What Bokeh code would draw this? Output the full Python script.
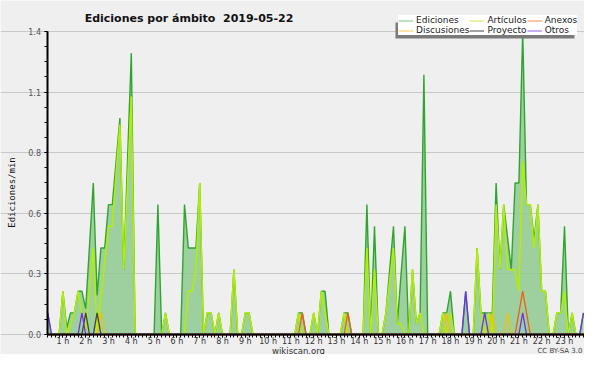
import math
from bokeh.plotting import figure
from bokeh.models import (Range1d, FixedTicker, Label, Legend, LegendItem, BoxAnnotation)
from bokeh.embed import file_html
from bokeh.resources import INLINE

# ---- data: edits per minute, 10-minute bins starting at 00:20 ----
start_minute = 20
step_minutes = 10

ediciones = [
    0.1, 0, 0, 0, 0.2, 0.03, 0.1, 0.1, 0.2, 0.2,
    0.12, 0.41, 0.7, 0.18, 0.4, 0.4, 0.6, 0.6, 0.8, 1.0,
    0.3, 0.8, 1.3, 0, 0, 0, 0, 0, 0, 0.6,
    0, 0.1, 0, 0, 0, 0, 0.6, 0.4, 0.4, 0.4,
    0.7, 0, 0.1, 0.1, 0, 0.1, 0, 0, 0, 0.3,
    0, 0, 0.1, 0.1, 0, 0, 0, 0, 0, 0,
    0, 0, 0, 0, 0, 0, 0.1, 0.1, 0, 0,
    0.1, 0, 0.2, 0.2, 0, 0, 0, 0, 0.1, 0.1,
    0, 0, 0, 0, 0.6, 0, 0.5, 0, 0, 0.1,
    0.3, 0.5, 0.05, 0.28, 0.5, 0, 0.3, 0.05, 0.1, 1.2,
    0, 0, 0, 0, 0.1, 0.1, 0.2, 0, 0, 0,
    0.2, 0, 0, 0.4, 0.1, 0.1, 0.1, 0.1, 0.7, 0.3,
    0.6, 0.45, 0.3, 0.7, 0.7, 1.4, 0.6, 0.6, 0.44, 0.6,
    0.2, 0.2, 0, 0, 0.1, 0.1, 0.5, 0, 0.1, 0,
    0, 0.1,
]

articulos = [
    0, 0, 0, 0, 0.2, 0, 0.05, 0.1, 0.2, 0.1,
    0.02, 0.2, 0.4, 0, 0.17, 0.33, 0.5, 0.5, 0.75, 0.97,
    0.3, 0.7, 1.1, 0, 0, 0, 0, 0, 0, 0,
    0, 0.1, 0, 0, 0, 0, 0, 0.2, 0.2, 0.3,
    0.7, 0, 0.1, 0.1, 0, 0.1, 0, 0, 0, 0.3,
    0, 0, 0.1, 0.1, 0, 0, 0, 0, 0, 0,
    0, 0, 0, 0, 0, 0, 0.1, 0, 0, 0,
    0.1, 0, 0.2, 0.1, 0, 0, 0, 0, 0.1, 0,
    0, 0, 0, 0, 0.4, 0, 0.3, 0, 0, 0.1,
    0.25, 0.4, 0.05, 0.05, 0, 0, 0.3, 0.05, 0.1, 0,
    0, 0, 0, 0, 0.1, 0, 0.1, 0, 0, 0,
    0, 0, 0, 0.4, 0.1, 0, 0.1, 0, 0.6, 0.3,
    0.6, 0.3, 0.3, 0.3, 0.2, 0.8, 0.6, 0.6, 0.4, 0.6,
    0.2, 0.2, 0, 0, 0.1, 0.1, 0.2, 0, 0.1, 0,
    0, 0,
]

n_bins = len(ediciones)
anexos = [0] * n_bins
discusiones = [0] * n_bins
proyecto = [0] * n_bins
otros = [0] * n_bins
# sparse series: (bin index, value)
anexos_pts = [(67, 0.1), (79, 0.1), (124, 0.1), (125, 0.2), (126, 0.1)]
discusiones_pts = [(14, 0.1), (105, 0.1), (117, 0.1), (121, 0.1)]
proyecto_pts = [(10, 0.1), (13, 0.1)]
otros_pts = [(0, 0.1), (9, 0.1), (110, 0.2), (115, 0.1), (125, 0.1), (141, 0.1)]
for arr, pts in ((anexos, anexos_pts), (discusiones, discusiones_pts),
                 (proyecto, proyecto_pts), (otros, otros_pts)):
    for i, v in pts:
        arr[i] = v

hours = [(start_minute + step_minutes * i) / 60 for i in range(n_bins)]

y_ticks = [0, 0.28, 0.56, 0.84, 1.12, 1.4]
y_tick_labels = ["0.0", "0.3", "0.6", "0.8", "1.1", "1.4"]
y_minor = [0.07 * k for k in range(21)]
x_ticks = list(range(1, 24))
x_tick_labels = [f"{h} h" for h in x_ticks]
x_minor = [k / 6 for k in range(2, 144)]

series_names = ["Ediciones", "Artículos", "Anexos", "Discusiones", "Proyecto", "Otros"]
title_text = "Ediciones por ámbito\u00a0 2019-05-22"
y_title = "Ediciones/min"

# ---- figure (frame spans the whole canvas; axes are pinned inside it) ----
W, H = 584, 354
BG = "#efeff0"
X0, X1 = -1.7369, 23.877      # hours at canvas left / right edge
Y0, Y1 = -0.09241, 1.54323    # values at canvas bottom / top edge
AXIS_X = 0.3026               # where the value axis stands (hours)

p = figure(width=W, height=H, output_backend="svg", toolbar_location=None,
           x_range=Range1d(X0, X1), y_range=Range1d(Y0, Y1),
           min_border_left=0, min_border_right=0, min_border_top=0, min_border_bottom=0)
p.background_fill_color = BG
p.border_fill_color = BG
p.outline_line_color = None
p.xgrid.grid_line_color = None
p.ygrid.grid_line_color = "#c8c8c8"
p.ygrid.grid_line_width = 1
p.ygrid.bounds = (AXIS_X, X1)

# axes
p.yaxis.ticker = FixedTicker(ticks=y_ticks, minor_ticks=y_minor)
p.yaxis.major_label_overrides = {t: l for t, l in zip(y_ticks, y_tick_labels)}
p.yaxis.bounds = (0, 1.4)
p.yaxis.fixed_location = AXIS_X
p.xaxis.ticker = FixedTicker(ticks=x_ticks, minor_ticks=x_minor)
p.xaxis.major_label_overrides = {t: l for t, l in zip(x_ticks, x_tick_labels)}
p.xaxis.fixed_location = 0
p.xaxis.bounds = (AXIS_X, X1)
for ax in (p.xaxis, p.yaxis):
    ax.axis_line_color = "black"
    ax.axis_line_width = 2
    ax.major_tick_line_color = "black"
    ax.minor_tick_line_color = "black"
    ax.major_tick_in = 0
    ax.minor_tick_in = 0
    ax.major_tick_out = 3
    ax.minor_tick_out = 3
    ax.major_label_text_font = "DejaVu Sans"
p.yaxis.major_label_text_font_size = "8px"
p.yaxis.major_label_text_color = "#555555"
p.yaxis.major_label_standoff = 3
p.xaxis.major_label_text_font_size = "8px"
p.xaxis.major_label_text_color = "#333333"
p.xaxis.major_label_standoff = 0

# glyphs
p.varea(x=hours, y1=[0] * n_bins, y2=ediciones, fill_color="#8fc98f", fill_alpha=0.85)
p.line(hours, ediciones, line_color="#2fa52f", line_width=1.4)
p.line(hours, articulos, line_color="#b4ee00", line_width=1.5)
p.line(hours, discusiones, line_color="#f2c200", line_width=1.3)
p.line(hours, proyecto, line_color="#444444", line_width=1.3)
p.line(hours, anexos, line_color="#f06010", line_width=1.3)
p.line(hours, otros, line_color="#7030e8", line_width=1.3)

# legend sample lines (renderers placed off-range so only the legend shows them)
legend_colors = ["#8fd08f", "#d2f06a", "#ff9a66", "#ffd766", "#666666", "#a07af0"]
items = []
for name, col in zip(series_names, legend_colors):
    r = p.line([-5, -4], [-5, -5], line_color=col, line_width=1.2)
    items.append(LegendItem(label=name, renderers=[r]))

# shadow offset 3px left / 3px down from the legend box (canvas pixels, y up)
shadow = BoxAnnotation(left=395, right=574, top=332, bottom=316,
                       left_units="screen", right_units="screen",
                       top_units="screen", bottom_units="screen",
                       fill_color="#7a7a7a", fill_alpha=1.0, line_color=None)
p.add_layout(shadow)

legend = Legend(items=items, location=(398, 319), orientation="horizontal", ncols=3,
                label_text_font="DejaVu Sans", label_text_font_size="9px",
                label_text_color="#222222", glyph_width=15, glyph_height=7,
                label_height=7, label_standoff=3, spacing=0, padding=3, margin=0,
                background_fill_color="white", background_fill_alpha=1.0,
                border_line_color=None)
p.add_layout(legend)

# texts (canvas pixels, y up from bottom edge)
p.add_layout(Label(x=188.5, y=335.7, x_units="screen", y_units="screen",
                   text=title_text, text_align="center",
                   text_baseline="alphabetic", text_font="DejaVu Sans",
                   text_font_style="bold", text_font_size="11px", text_color="#111111"))
p.add_layout(Label(x=11, y=162, x_units="screen", y_units="screen", angle=math.pi / 2,
                   text=y_title, text_align="center", text_baseline="middle",
                   text_font="DejaVu Sans Mono", text_font_size="9px", text_color="#111111"))
p.add_layout(Label(x=298, y=4, x_units="screen", y_units="screen",
                   text="wikiscan.org", text_align="center", text_baseline="middle",
                   text_font="DejaVu Sans", text_font_size="8.5px", text_color="#333333"))
p.add_layout(Label(x=582, y=4, x_units="screen", y_units="screen",
                   text="CC BY-SA 3.0", text_align="right", text_baseline="middle",
                   text_font="DejaVu Sans", text_font_size="7px", text_color="#444444"))

open("out.html", "w").write(file_html(p, INLINE))
